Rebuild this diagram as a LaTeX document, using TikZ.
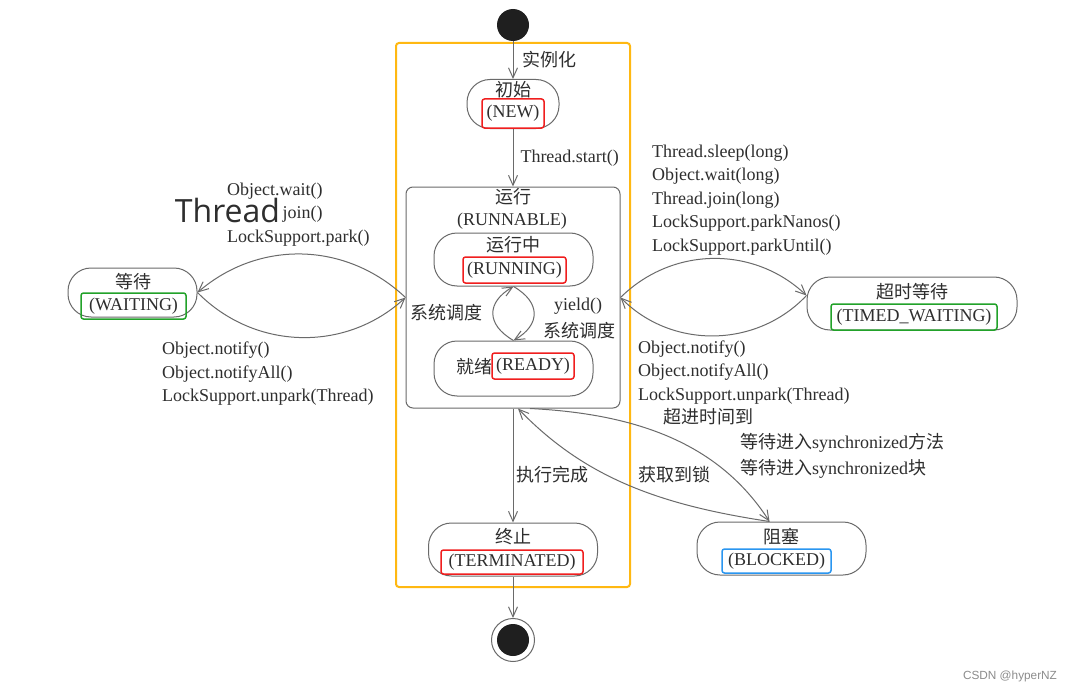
\documentclass[tikz,border=0pt]{standalone}
\usepackage{fontspec}
\setmainfont{Liberation Serif}
\newfontfamily\cjk{Noto Sans CJK SC}
\newfontfamily\overlayfont{Open Sans}
\newfontfamily\markfont{Liberation Sans}
\usetikzlibrary{arrows.meta}
\definecolor{ink}{HTML}{2E2E2E}
\definecolor{wire}{HTML}{6A6A6A}
\definecolor{frame}{HTML}{FFB812}
\definecolor{tagred}{HTML}{F01E1E}
\definecolor{taggreen}{HTML}{22A22A}
\definecolor{tagblue}{HTML}{2A96F0}

\tikzset{
  arr/.style={draw=wire, line width=1pt, -{Straight Barb[length=10pt,width=9pt]}},
  stbox/.style={draw=wire, line width=1pt, rounded corners=23pt, minimum width=#1, minimum height=52pt, inner sep=0pt},
  lbl/.style={text=ink, inner sep=0pt, font=\fontsize{18}{23.5}\selectfont},
  cn/.style={text=ink, inner sep=0pt, font=\cjk\fontsize{18}{23.5}\selectfont},
  tag/.style={draw=#1, line width=1.5pt, rounded corners=2.5pt, text=ink, font=\fontsize{18}{23.5}\selectfont,
    inner xsep=2pt, inner ysep=0pt, text height=12.5pt, text depth=4pt, minimum height=26pt},
}

\begin{document}
\begin{tikzpicture}[x=1pt, y=-1pt]
\fill[white] (0,0) rectangle (1072,693);
\useasboundingbox (0,0) rectangle (1072,693);
% yellow frame round the main path
\draw[frame, line width=2pt, rounded corners=3pt] (396,43) rectangle (630,587);

% start and end points
\node[circle, fill=black!88, minimum size=32pt, inner sep=0pt] (start) at (513,25) {};
\node[circle, draw=wire, line width=1pt, minimum size=43pt, inner sep=0pt,
  path picture={\fill[black!88] (path picture bounding box.center) circle (16pt);}] (stop) at (513,640) {};

% states
\node[stbox=92pt, minimum height=49pt] (new) at (513,104) {};
\node[cn] (newcn) at (513,90) {初始};
\node[tag=tagred, minimum width=62pt, minimum height=29pt] (newtag) at (513,113.5) {(NEW)};

\node[draw=wire, line width=1pt, rounded corners=7pt, minimum width=214pt, minimum height=221pt] (runnable) at (513,297.5) {};
\node[cn] (runnablecn) at (513,197) {运行};
\node[lbl] (runnabletag) at (512,221) {(RUNNABLE)};

\node[stbox=159pt, minimum height=53pt] (running) at (513.5,259.5) {};
\node[cn] (runningcn) at (513,245) {运行中};
\node[tag=tagred, minimum width=103pt] (runningtag) at (514.5,270) {(RUNNING)};

\node[stbox=159pt, minimum height=55pt] (ready) at (513.5,368.5) {};
\node[cn] (readycn) at (474,367) {就绪};
\node[tag=tagred, minimum width=82pt] (readytag) at (533,366) {(READY)};

\node[stbox=129pt, minimum height=49pt] (waiting) at (132.5,292.5) {};
\node[cn] (waitingcn) at (133,282) {等待};
\node[tag=taggreen, minimum width=105pt] (waitingtag) at (133.5,306) {(WAITING)};

\node[stbox=210pt, minimum height=53pt] (timed) at (912,303.5) {};
\node[cn] (timedcn) at (912,292) {超时等待};
\node[tag=taggreen, minimum width=166pt] (timedtag) at (914,317) {(TIMED\_WAITING)};

\node[stbox=169pt, minimum height=53pt] (term) at (513,549.5) {};
\node[cn] (termcn) at (513,537) {终止};
\node[tag=tagred, minimum width=142pt, minimum height=24pt] (termtag) at (512,562) {(TERMINATED)};

\node[stbox=169pt, minimum height=53pt] (blocked) at (781.5,548.5) {};
\node[cn] (blockedcn) at (781,537) {阻塞};
\node[tag=tagblue, minimum width=109pt, minimum height=24pt] (blockedtag) at (776.5,561) {(BLOCKED)};

% main path
\draw[arr] (start) -- (new) node[midway, right=9pt, cn] {实例化};
\draw[arr] (new) -- (runnable) node[midway, right=7pt, lbl] {Thread.start()};
\draw[arr] (runnable) -- (term) node[pos=0.58, right=3pt, cn] {执行完成};
\draw[arr] (term) -- (stop);

% running <-> ready
\draw[arr] (ready.north) to[bend left=60, looseness=1.5] (running.south);
\draw[arr] (running.south) to[bend left=60, looseness=1.5] (ready.north);
\node[cn, anchor=west] (schedleft) at (410,313) {系统调度};
\node[lbl] (yield) at (578,306) {yield()};
\node[cn] (schedright) at (579,331) {系统调度};

% waiting
\draw[arr] (runnable.west) to[bend right=42] (waiting.east);
\draw[arr] (waiting.east) to[bend right=44] (runnable.west);
\node[lbl, align=left, anchor=west] (waitin) at (227,214.5) {Object.wait()\\\phantom{Thread.}join()\\LockSupport.park()};
\node[font=\overlayfont\fontsize{32}{32}\selectfont, text=ink, inner sep=0pt] (overlay) at (227.5,210) {Thread};
\node[lbl, align=left, anchor=west] (waitout) at (162,374) {Object.notify()\\Object.notifyAll()\\LockSupport.unpark(Thread)};

% timed waiting
\draw[arr] (runnable.east) to[bend left=44] ([yshift=8pt]timed.west);
\draw[arr] ([yshift=8pt]timed.west) to[bend left=46] (runnable.east);
\node[lbl, align=left, anchor=west] (timedin) at (652,200) {Thread.sleep(long)\\Object.wait(long)\\Thread.join(long)\\LockSupport.parkNanos()\\LockSupport.parkUntil()};
\node[lbl, align=left, anchor=west] (timedout) at (638,372.5) {Object.notify()\\Object.notifyAll()\\LockSupport.unpark(Thread)};
\node[cn, anchor=west] (timeout) at (663,417) {超进时间到};

% blocked
\draw[arr] ([xshift=17pt]runnable.south) .. controls (640,414) and (720,445) .. ([xshift=-12pt]blocked.north);
\draw[arr] ([xshift=-12pt]blocked.north) .. controls (660,505) and (585,478) .. ([xshift=5pt]runnable.south);
\node[lbl, align=left, anchor=west] (syncin) at (740,456) {{\cjk 等待进入}synchronized{\cjk 方法}\\[2.5pt]{\cjk 等待进入}synchronized{\cjk 块}};
\node[cn, anchor=west] (lockgot) at (638,475) {获取到锁};

\node[font=\markfont\fontsize{11.8}{12}\selectfont, text=black!45, inner sep=0pt] (mark) at (1010,676) {CSDN @hyperNZ};
\end{tikzpicture}
\end{document}
